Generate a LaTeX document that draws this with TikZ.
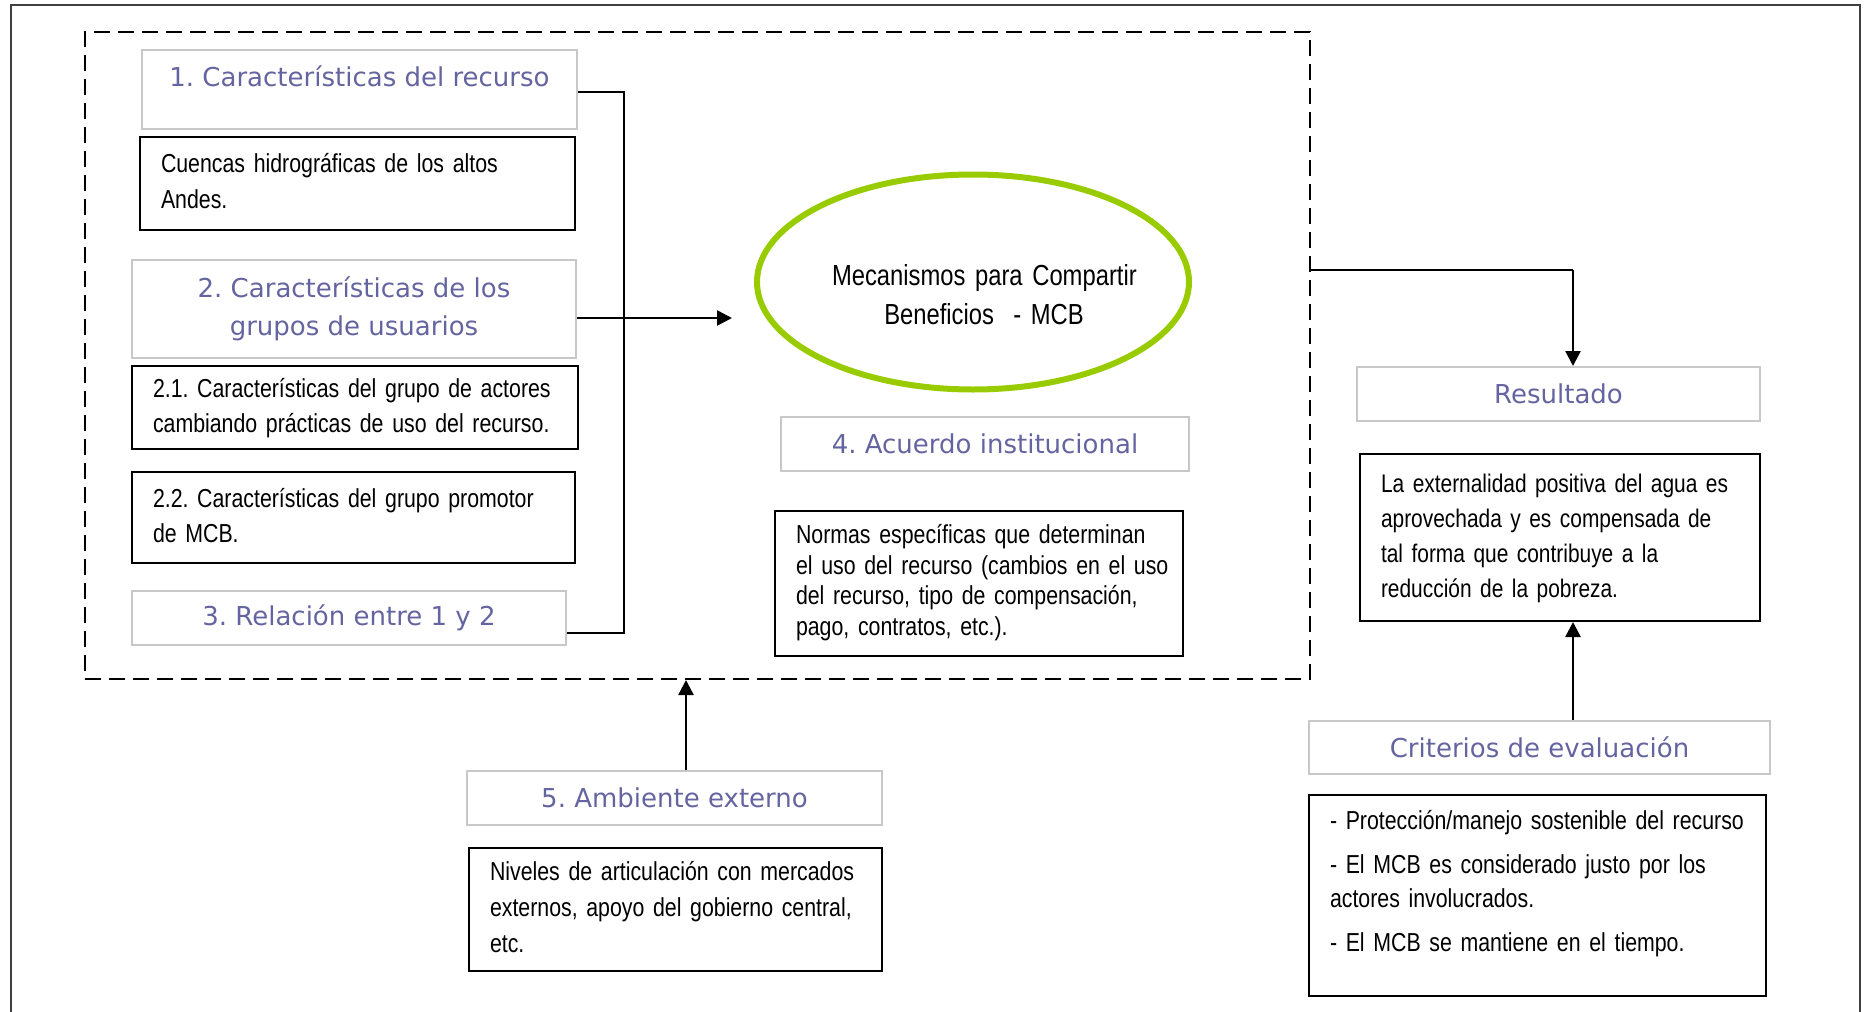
\documentclass[tikz,border=0pt]{standalone}
\usepackage{fontspec}
\setmainfont[FakeStretch=0.82]{Liberation Sans}
\newfontfamily\titulofont{DejaVu Sans}
\usetikzlibrary{arrows.meta,shapes.geometric}
\definecolor{lila}{RGB}{100,100,160}
\definecolor{verde}{RGB}{153,204,0}
\definecolor{borde}{RGB}{200,200,200}
\frenchspacing
% lineas fijas, sin cortes
\newcommand{\bloque}[1]{\begin{tabular}{@{}l@{}}#1\end{tabular}}
\begin{document}
\begin{tikzpicture}[x=1pt,y=-1pt,
    titulo/.style={draw=borde,line width=2pt,text=lila,align=center,inner sep=0pt,
      anchor=north west,font=\titulofont\fontsize{26}{38}\selectfont},
    texto/.style={draw=black,line width=2pt,align=left,inner xsep=21pt,inner ysep=0pt,
      anchor=north west,font=\fontsize{26}{36}\selectfont},
    marco/.style={draw=black,line width=2pt,dash pattern=on 16pt off 8pt,inner sep=0pt,
      anchor=north west},
    linea/.style={line width=1.5pt},
    flecha/.style={line width=2.5pt,-{Triangle[length=15pt,width=15pt]}}]
      \useasboundingbox (0,0) rectangle (1869,1012);
      \draw[line width=2.5pt,black!75] (11,1012) -- (11,5) -- (1860,5) -- (1860,1012);
      \node[marco,minimum width=1225pt,minimum height=647pt] (marco) at (83.5,31) {};
      \node[titulo,minimum width=435pt,minimum height=79pt,text height=36.5pt,text depth=42.5pt]
        (recurso) at (141,49) {1. Características del recurso};
      \node[texto,text width=393pt,minimum height=93pt]
        (cuencas) at (139,136) {\bloque{Cuencas hidrográficas de los altos\\Andes.}};
      \node[titulo,minimum width=444pt,minimum height=98pt]
        (usuarios) at (131,259) {2. Características de los\\grupos de usuarios};
      \node[texto,text width=404pt,minimum height=83pt,font=\fontsize{26}{35}\selectfont]
        (actores) at (131,365) {\bloque{2.1. Características del grupo de actores\\cambiando prácticas de uso del recurso.}};
      \node[texto,text width=401pt,minimum height=91pt,font=\fontsize{26}{35}\selectfont]
        (promotor) at (131,471) {\bloque{2.2. Características del grupo promotor\\de MCB.}};
      \node[titulo,minimum width=434pt,minimum height=54pt]
        (relacion) at (131,590) {3. Relación entre 1 y 2};
      \node[ellipse,draw=verde,line width=6pt,minimum width=432pt,minimum height=215pt,
        inner sep=0pt,text width=282pt,align=center,font=\fontsize{29}{39}\selectfont]
        (mcb) at (973,282) {\rule{0pt}{46pt}\mbox{Mecanismos para Compartir}\\\hspace*{22pt}Beneficios \ - MCB};
      \node[titulo,minimum width=408pt,minimum height=54pt]
        (acuerdo) at (780,416) {4. Acuerdo institucional};
      \node[texto,text width=366pt,minimum height=145pt,font=\fontsize{26}{30.6}\selectfont]
        (normas) at (774,510) {\bloque{Normas específicas que determinan\\el uso del recurso (cambios en el uso\\del recurso, tipo de compensación,\\pago, contratos, etc.).}};
      \node[titulo,minimum width=415pt,minimum height=54pt]
        (ambiente) at (466,770) {5. Ambiente externo};
      \node[texto,text width=371pt,minimum height=123pt]
        (niveles) at (468,847) {\bloque{Niveles de articulación con mercados\\externos, apoyo del gobierno central,\\etc.}};
      \node[titulo,minimum width=403pt,minimum height=54pt]
        (resultado) at (1356,366) {Resultado};
      \node[texto,text width=358pt,minimum height=167pt,font=\fontsize{25.5}{35}\selectfont]
        (externalidad) at (1359,453) {\bloque{La externalidad positiva del agua es\\aprovechada y es compensada de\\tal forma que contribuye a la\\reducción de la pobreza.}};
      \node[titulo,minimum width=461pt,minimum height=53pt]
        (criterios) at (1308,720) {Criterios de evaluación};
      \node[texto,text width=415pt,minimum height=201pt,font=\fontsize{26}{34}\selectfont]
        (lista) at (1308,794) {\bloque{- Protección/manejo sostenible del recurso\\[10pt]- El MCB es considerado justo por los\\actores involucrados.\\[10pt]- El MCB se mantiene en el tiempo.\\[-10pt]\mbox{}}};
      \coordinate (b1) at (624,92);
      \coordinate (b2) at (624,633);
      \coordinate (entrada) at (732,318);
      \coordinate (codo) at (1573,270);
      \coordinate (subida) at (686,0);
      \begin{scope}[linea]
        \draw (recurso.east |- b1) to (b1) to (b2) to (relacion.east |- b2);
        \draw (marco.east |- codo) to (codo);
      \end{scope}
      \begin{scope}[flecha]
        \draw (usuarios.east |- entrada) to (entrada);
        \draw (codo) to (codo |- resultado.north);
        \draw (codo |- criterios.north) to (codo |- externalidad.south);
        \draw (subida |- ambiente.north) to (subida |- marco.south);
      \end{scope}
    \end{tikzpicture}
\end{document}
